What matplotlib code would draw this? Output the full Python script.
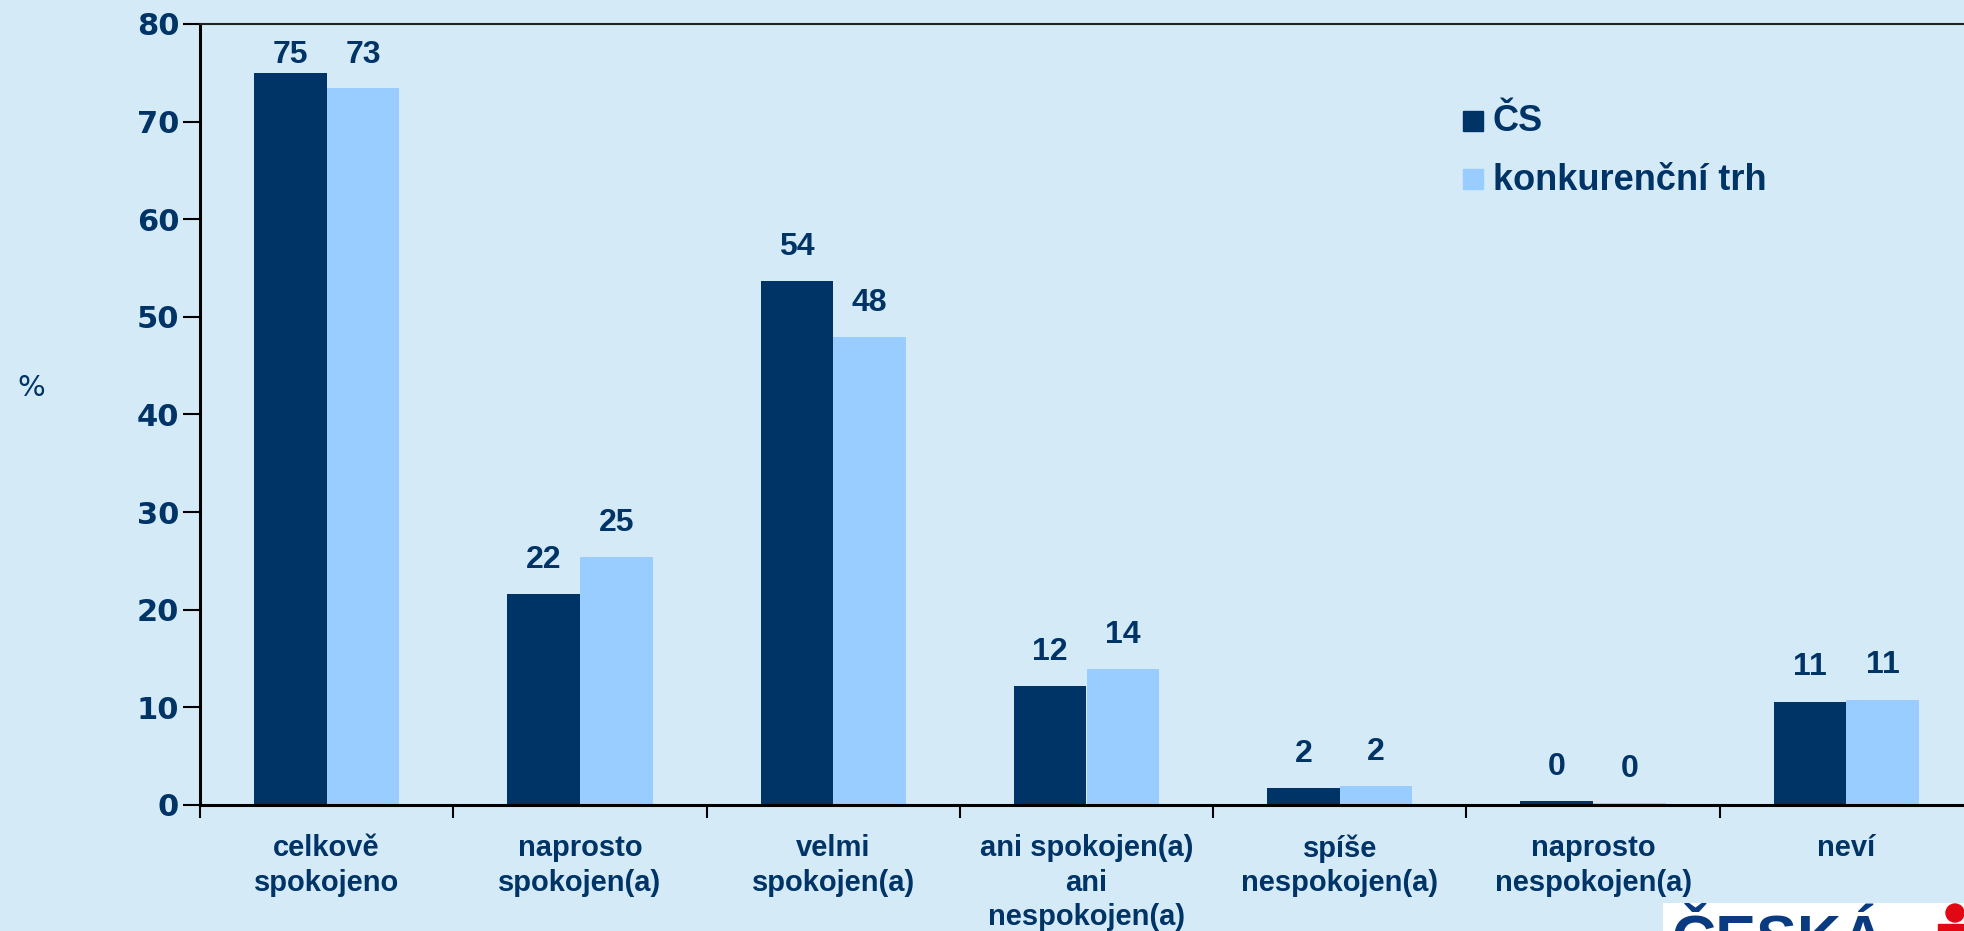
import matplotlib
matplotlib.use("Agg")
import matplotlib.pyplot as plt
from matplotlib import font_manager
from matplotlib.patches import Rectangle, Circle
import numpy as np

categories = [
    "celkově\nspokojeno",
    "naprosto\nspokojen(a)",
    "velmi\nspokojen(a)",
    "ani spokojen(a)\nani\nnespokojen(a)",
    "spíše\nnespokojen(a)",
    "naprosto\nnespokojen(a)",
    "neví",
]
cs_values = [75.0, 21.6, 53.7, 12.2, 1.7, 0.4, 10.6]
market_values = [73.4, 25.4, 47.9, 13.9, 1.9, 0.2, 10.8]
series_names = ["ČS", "konkurenční trh"]
y_ticks = [0, 10, 20, 30, 40, 50, 60, 70, 80]

BG = "#D4EBF7"
DARK = "#003366"
LIGHT = "#99CCFF"
TEXT = "#003366"

installed = {f.name for f in font_manager.fontManager.ttflist}
narrow = "Liberation Sans Narrow" if "Liberation Sans Narrow" in installed else None

fig = plt.figure(figsize=(19.64, 9.31), dpi=100, facecolor=BG)
ax = fig.add_axes([200 / 1964, 126 / 931, 1773 / 1964, 781 / 931])
ax.set_facecolor(BG)

x = np.arange(len(categories))
w = 0.287
b1 = ax.bar(x - w / 2, cs_values, w, color=DARK, label=series_names[0], zorder=2)
b2 = ax.bar(x + w / 2, market_values, w, color=LIGHT, label=series_names[1], zorder=2)

# value labels above the bars, kept below the top of the plot area
for bars, vals in ((b1, cs_values), (b2, market_values)):
    for rect, v in zip(bars, vals):
        ax.text(rect.get_x() + rect.get_width() / 2, min(v + 3.5, 76.8), f"{v:.0f}",
                ha="center", va="center", fontsize=23, fontweight="bold",
                color=TEXT, family=["Liberation Sans", "DejaVu Sans"])

ax.set_xlim(-0.5, len(categories) - 0.5)
ax.set_ylim(0, 80)
ax.set_yticks(y_ticks)
ax.set_yticklabels([str(t) for t in y_ticks], fontsize=22, fontweight="bold",
                   color=TEXT, family="DejaVu Sans")
ax.tick_params(axis="y", direction="out", length=12, width=1.5, pad=3)

# category separators as ticks, labels at group centres
ax.set_xticks(np.arange(len(categories) + 1) - 0.5)
ax.set_xticklabels([])
ax.tick_params(axis="x", direction="out", length=9, width=1.5)
ax.set_xticks(x, minor=True)
if narrow:
    cat_fam, cat_size = [narrow, "Liberation Sans"], 24
else:
    cat_fam, cat_size = ["Liberation Sans", "DejaVu Sans"], 21
ax.set_xticklabels(categories, minor=True, fontsize=cat_size, fontweight="bold",
                   color=TEXT, family=cat_fam, linespacing=1.3)
ax.tick_params(axis="x", which="minor", length=0, pad=21)

for side in ("left", "bottom"):
    ax.spines[side].set_linewidth(2.2)
    ax.spines[side].set_color("black")
ax.spines["top"].set_linewidth(1.5)
ax.spines["top"].set_color("#222222")
ax.spines["right"].set_visible(False)

fig.text(31 / 1964, 1 - 388 / 931, "%", fontsize=21, color=TEXT,
         ha="center", va="center", family="DejaVu Sans")

# legend
leg_font = dict(fontsize=26, fontweight="bold", color=TEXT,
                family=["Liberation Sans", "DejaVu Sans"], va="center")
for i, (name, col) in enumerate(zip(series_names, [DARK, LIGHT])):
    yc = 1 - (121 + 58 * i) / 931
    fig.patches.append(Rectangle((1463 / 1964, yc - 10 / 931), 20 / 1964, 20 / 931,
                                 transform=fig.transFigure, color=col))
    fig.text(1493 / 1964, yc - 1 / 931, name, **leg_font)

# bank logo in the corner, clipped by its white panel
logo = fig.add_axes([1663 / 1964, 0, 1 - 1663 / 1964, 28 / 931])
logo.set_facecolor("white")
logo.set_xlim(0, 301)
logo.set_ylim(0, 28)
logo.axis("off")
logo.add_patch(Rectangle((0, 0), 301, 28, color="white", zorder=0))
logo.text(9, 18, "ČESKÁ", fontsize=44, fontweight="bold", color="#0A3A80",
          va="top", ha="left", family=["Liberation Sans", "DejaVu Sans"], clip_on=True)
logo.add_patch(Circle((292, 18), 9, color="#E30613", zorder=3))
logo.add_patch(Rectangle((275, 0), 26, 7, color="#E30613", zorder=3))

fig.savefig("out.png", dpi=100, facecolor=BG)
